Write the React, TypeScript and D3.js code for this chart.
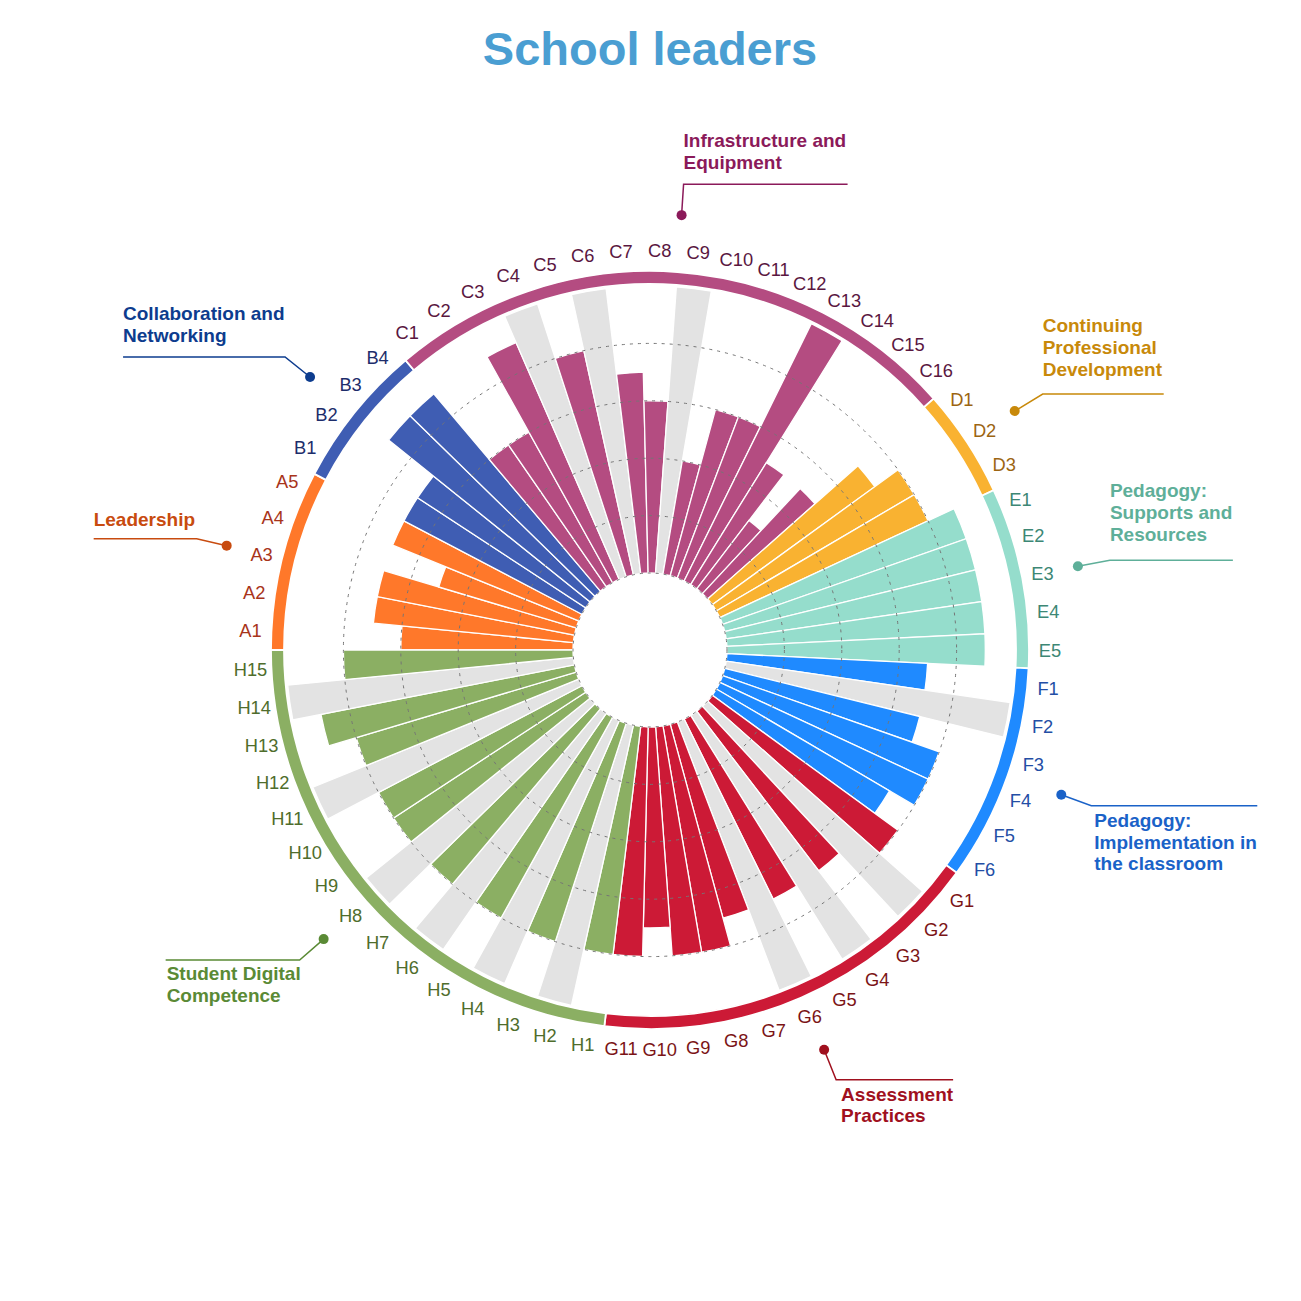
import React from 'react';
import * as d3 from 'd3';

// ---------- data ----------
const groupCodes = ['A', 'B', 'C', 'D', 'E', 'F', 'G', 'H'];
const groupTitles = [
  ['Leadership'],
  ['Collaboration and', 'Networking'],
  ['Infrastructure and', 'Equipment'],
  ['Continuing', 'Professional', 'Development'],
  ['Pedagogy:', 'Supports and', 'Resources'],
  ['Pedagogy:', 'Implementation in', 'the classroom'],
  ['Assessment', 'Practices'],
  ['Student Digital', 'Competence'],
];
// null = item not asked to school leaders (grey bar)
const valuesA = [60, 70, 70, 50, 70];
const valuesB = [70, 70, 90, 90];
const valuesC = [60, 60, 90, null, 80, null, 70, 60, null, 40, 60, 60, 100, 50, 30, 50];
const valuesD = [70, 80, 80];
const valuesE = [90, 90, 90, 90, 90];
const valuesF = [70, null, 70, 80, 80, 70];
const valuesG = [80, null, 70, null, 70, null, 70, 80, 80, 70, 80];
const valuesH = [80, null, 80, null, 80, null, 80, null, 80, 80, null, 80, 90, null, 80];
const groupValues = [valuesA, valuesB, valuesC, valuesD, valuesE, valuesF, valuesG, valuesH];
const gridTicks = [0, 20, 40, 60, 80];
const valueMax = 100;

// ---------- styles ----------
const barColors = ['#FF782A', '#3F5DB3', '#B44C81', '#F9B231', '#95DDCC', '#1F8AFF', '#CC1A36', '#8BAF63'];
const labelColors = ['#a8341a', '#1d2d6b', '#5a173f', '#9c6512', '#3d8775', '#234ea5', '#7b1416', '#4f6d2c'];
const annoColors = ['#C84B0F', '#0D3C8E', '#8B1A5A', '#C8890A', '#5EAF99', '#1A62C8', '#A0101E', '#5A8A35'];
const greyColor = '#E3E3E3';
// annotation layout: elbow offset from dot, horizontal line length, text baselines (relative to elbow)
const annoLayout = [
  { dx: -30, dy: -7, len: -103, tdx: 0, tdy: [-13] },
  { dx: -25, dy: -20, len: -162, tdx: 0, tdy: [-37, -15] },
  { dx: 2, dy: -31, len: 164, tdx: 0, tdy: [-37, -15] },
  { dx: 28, dy: -17, len: 121, tdx: 0, tdy: [-62, -40, -18] },
  { dx: 32, dy: -6, len: 123, tdx: 0, tdy: [-63, -41, -19] },
  { dx: 30, dy: 11, len: 166, tdx: 3, tdy: [21, 43, 64] },
  { dx: 12, dy: 30, len: 117, tdx: 5, tdy: [21, 42] },
  { dx: -24, dy: 21, len: -134, tdx: 1, tdy: [20, 42] },
];

const W = 1301;
const CX = 650;
const CY = 650;
const INNER = 77;
const OUTER = 364;
const RING_IN = 366;
const RING_OUT = 379;
const LABEL_R = 400;
const DOT_R = 436;
const FONT = '"Liberation Sans", Arial, Helvetica, sans-serif';

type Item = { id: string; g: number; v: number | null };

export default function App() {
  const items: Item[] = [];
  groupValues.forEach((vals, g) => {
    vals.forEach((v, i) => items.push({ id: `${groupCodes[g]}${i + 1}`, g, v }));
  });

  const angle = d3
    .scaleBand<string>()
    .domain(items.map((d) => d.id))
    .range([-Math.PI / 2, (3 * Math.PI) / 2])
    .paddingInner(0)
    .paddingOuter(0);
  const bw = angle.bandwidth();
  const radius = d3.scaleLinear().domain([0, valueMax]).range([INNER, OUTER]);

  const arc = d3.arc<any>();
  const pt = (a: number, r: number) => [CX + r * Math.sin(a), CY - r * Math.cos(a)];

  const bars = items.map((d) => {
    const a0 = angle(d.id) as number;
    const path = arc({
      innerRadius: INNER,
      outerRadius: radius(d.v == null ? valueMax : d.v),
      startAngle: a0,
      endAngle: a0 + bw,
    });
    return (
      <path
        key={d.id}
        d={path as string}
        transform={`translate(${CX},${CY})`}
        fill={d.v == null ? greyColor : barColors[d.g]}
        stroke="#fff"
        strokeWidth={1.3}
      />
    );
  });

  const labels = items.map((d) => {
    const a = (angle(d.id) as number) + bw / 2;
    const [x, y] = pt(a, LABEL_R);
    return (
      <text
        key={'l' + d.id}
        x={x}
        y={y}
        textAnchor="middle"
        dominantBaseline="central"
        fontSize={18.3}
        fontFamily={FONT}
        fill={labelColors[d.g]}
      >
        {d.id}
      </text>
    );
  });

  const rings = groupCodes.map((code, g) => {
    const ids = items.filter((d) => d.g === g).map((d) => d.id);
    const a0 = angle(ids[0]) as number;
    const a1 = (angle(ids[ids.length - 1]) as number) + bw;
    const path = arc({ innerRadius: RING_IN, outerRadius: RING_OUT, startAngle: a0, endAngle: a1 });
    return (
      <path
        key={'r' + code}
        d={path as string}
        transform={`translate(${CX},${CY})`}
        fill={barColors[g]}
        stroke="#fff"
        strokeWidth={1.8}
      />
    );
  });

  const grid = gridTicks.map((t) => (
    <circle
      key={'g' + t}
      cx={CX}
      cy={CY}
      r={radius(t)}
      fill="none"
      stroke="#757575"
      strokeWidth={1}
      strokeDasharray="3,5"
    />
  ));

  const annos = groupCodes.map((code, g) => {
    const ids = items.filter((d) => d.g === g).map((d) => d.id);
    const a0 = angle(ids[0]) as number;
    const a1 = (angle(ids[ids.length - 1]) as number) + bw;
    const am = (a0 + a1) / 2;
    const [dx0, dy0] = pt(am, DOT_R);
    const L = annoLayout[g];
    const ex = dx0 + L.dx;
    const ey = dy0 + L.dy;
    const hx = ex + L.len;
    const textX = Math.min(ex, hx) + L.tdx;
    const col = annoColors[g];
    return (
      <g key={'a' + code}>
        <polyline
          points={`${dx0},${dy0} ${ex},${ey} ${hx},${ey}`}
          fill="none"
          stroke={col}
          strokeWidth={1.5}
        />
        <circle cx={dx0} cy={dy0} r={5} fill={col} />
        {groupTitles[g].map((line, i) => (
          <text
            key={i}
            x={textX}
            y={ey + L.tdy[i]}
            fontSize={19}
            fontWeight="bold"
            fontFamily={FONT}
            fill={col}
          >
            {line}
          </text>
        ))}
      </g>
    );
  });

  return (
    <svg
      width={W}
      height={W}
      viewBox={`0 0 ${W} ${W}`}
      style={{ position: 'absolute', left: 0, top: 0, background: '#fff' }}
    >
      <rect x={0} y={0} width={W} height={W} fill="#fff" />
      <text
        x={CX}
        y={65}
        textAnchor="middle"
        fontSize={47}
        fontWeight="bold"
        fontFamily={FONT}
        fill="#4A9ED2"
      >
        School leaders
      </text>
      <g>{bars}</g>
      <g>{grid}</g>
      <g>{rings}</g>
      <g>{labels}</g>
      <g>{annos}</g>
    </svg>
  );
}
